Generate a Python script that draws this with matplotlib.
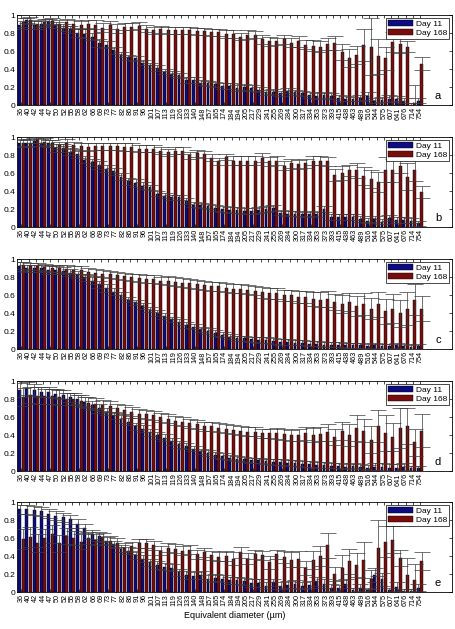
import matplotlib
matplotlib.use('Agg')
import matplotlib.pyplot as plt
import numpy as np

plt.rcParams['font.family'] = ['Liberation Sans', 'DejaVu Sans']

categories = [36, 40, 42, 44, 47, 50, 52, 55, 58, 62, 66, 69, 73, 77, 82, 86, 91, 96, 101, 107,
              113, 119, 126, 133, 140, 148, 157, 165, 174, 184, 194, 205, 217, 229, 241, 255, 269, 284, 300, 317,
              334, 353, 373, 393, 415, 438, 463, 489, 516, 544, 575, 607, 641, 676, 714, 754]

# ---- panel a ----
a_day11 = [0.89, 0.94, 0.89, 0.90, 0.93, 0.89, 0.86, 0.84, 0.80, 0.79,
           0.76, 0.69, 0.67, 0.61, 0.56, 0.53, 0.52, 0.47, 0.44, 0.41,
           0.37, 0.35, 0.33, 0.28, 0.28, 0.25, 0.24, 0.23,
           0.21, 0.21, 0.19, 0.20, 0.19, 0.17, 0.14, 0.15, 0.13, 0.16, 0.14, 0.13, 0.11, 0.10,
           0.11, 0.10, 0.08, 0.07, 0.07, 0.08, 0.10, 0.05, 0.06, 0.07, 0.07, 0.05, 0.00, 0.05]
a_day168 = [0.92, 0.94, 0.90, 0.92, 0.93, 0.90, 0.92, 0.90, 0.89, 0.90,
            0.89, 0.86, 0.89, 0.85, 0.87, 0.87, 0.88, 0.85, 0.83, 0.84,
            0.83, 0.83, 0.83, 0.83, 0.82, 0.82, 0.81, 0.81,
            0.79, 0.79, 0.76, 0.78, 0.78, 0.73, 0.71, 0.71, 0.73, 0.69, 0.71, 0.67, 0.66, 0.65,
            0.68, 0.69, 0.59, 0.52, 0.56, 0.67, 0.65, 0.54, 0.52, 0.70, 0.68, 0.65, 0.02, 0.46]
a_day11_err = [0.04, 0.03, 0.04, 0.03, 0.03, 0.03, 0.04, 0.04, 0.04, 0.05,
               0.04, 0.04, 0.04, 0.04, 0.03, 0.03, 0.03, 0.03, 0.03, 0.03,
               0.03, 0.03, 0.03, 0.03, 0.03, 0.03, 0.03, 0.03,
               0.03, 0.03, 0.03, 0.03, 0.03, 0.03, 0.03, 0.03, 0.03, 0.03, 0.03, 0.03, 0.03, 0.03,
               0.03, 0.03, 0.03, 0.03, 0.02, 0.03, 0.04, 0.03, 0.03, 0.04, 0.03, 0.03, 0.02, 0.03]
a_day168_err = [0.05, 0.04, 0.05, 0.04, 0.04, 0.04, 0.04, 0.04, 0.04, 0.04,
                0.05, 0.05, 0.04, 0.05, 0.04, 0.04, 0.04, 0.04, 0.04, 0.04,
                0.04, 0.04, 0.04, 0.04, 0.04, 0.04, 0.04, 0.04,
                0.04, 0.04, 0.04, 0.05, 0.04, 0.05, 0.05, 0.04, 0.05, 0.05, 0.06, 0.05, 0.06, 0.06,
                0.07, 0.08, 0.09, 0.10, 0.10, 0.18, 0.32, 0.19, 0.13, 0.11, 0.10, 0.06, 0.20, 0.07]

# ---- panel b ----
b_day11 = [0.93, 0.93, 0.96, 0.94, 0.93, 0.88, 0.88, 0.84, 0.81, 0.75,
           0.72, 0.69, 0.65, 0.62, 0.56, 0.51, 0.49, 0.46, 0.44, 0.37,
           0.35, 0.33, 0.33, 0.29, 0.25, 0.24, 0.23, 0.21, 0.20,
           0.19, 0.19, 0.18, 0.18, 0.19, 0.20, 0.21, 0.16, 0.15, 0.15, 0.14, 0.15, 0.14, 0.20,
           0.11, 0.11, 0.11, 0.11, 0.09, 0.07, 0.09, 0.06, 0.10, 0.08, 0.08, 0.07, 0.04]
b_day168 = [0.94, 0.94, 0.97, 0.95, 0.93, 0.91, 0.94, 0.91, 0.90, 0.89,
            0.90, 0.90, 0.90, 0.90, 0.89, 0.89, 0.87, 0.87, 0.87, 0.85,
            0.83, 0.85, 0.85, 0.80, 0.82, 0.81, 0.77, 0.73, 0.78,
            0.74, 0.74, 0.74, 0.74, 0.77, 0.73, 0.74, 0.68, 0.71, 0.70, 0.71, 0.74, 0.74, 0.73,
            0.58, 0.60, 0.63, 0.63, 0.57, 0.53, 0.50, 0.64, 0.63, 0.68, 0.56, 0.63, 0.39]
b_day11_err = [0.04, 0.04, 0.03, 0.04, 0.04, 0.04, 0.04, 0.04, 0.04, 0.04,
               0.04, 0.04, 0.04, 0.04, 0.04, 0.04, 0.04, 0.04, 0.03, 0.03,
               0.03, 0.03, 0.03, 0.03, 0.03, 0.03, 0.03, 0.03, 0.03, 0.03,
               0.03, 0.03, 0.03, 0.03, 0.03, 0.03, 0.03, 0.03, 0.03, 0.03,
               0.03, 0.03, 0.03, 0.03, 0.03, 0.03, 0.03, 0.03, 0.03, 0.03,
               0.03, 0.03, 0.03, 0.03, 0.03, 0.03]
b_day168_err = [0.04, 0.04, 0.03, 0.04, 0.04, 0.04, 0.04, 0.04, 0.04, 0.04,
                0.04, 0.04, 0.04, 0.04, 0.04, 0.04, 0.04, 0.04, 0.04, 0.04,
                0.04, 0.04, 0.04, 0.04, 0.04, 0.04, 0.04, 0.04, 0.03,
                0.05, 0.05, 0.05, 0.05, 0.05, 0.05, 0.05, 0.05, 0.05, 0.05,
                0.05, 0.05, 0.05, 0.05, 0.07, 0.08, 0.06, 0.08, 0.10, 0.10,
                0.11, 0.14, 0.13, 0.08, 0.15, 0.12, 0.07]

# ---- panel c ----
c_day11 = [0.92, 0.90, 0.90, 0.90, 0.88, 0.88, 0.87, 0.85, 0.83, 0.80,
           0.76, 0.72, 0.68, 0.64, 0.60, 0.55, 0.52, 0.48, 0.44, 0.40,
           0.37, 0.33, 0.30, 0.27, 0.25, 0.22, 0.20, 0.18, 0.16, 0.14,
           0.12, 0.12, 0.11, 0.10, 0.10, 0.09, 0.08, 0.08, 0.07, 0.07,
           0.06, 0.06, 0.05, 0.05, 0.05, 0.04, 0.04, 0.04, 0.03, 0.04,
           0.03, 0.03, 0.04, 0.03, 0.02, 0.03]
c_day168 = [0.93, 0.92, 0.92, 0.91, 0.90, 0.90, 0.89, 0.88, 0.88, 0.86,
            0.85, 0.84, 0.83, 0.82, 0.81, 0.80, 0.79, 0.78, 0.78, 0.76,
            0.76, 0.75, 0.74, 0.73, 0.72, 0.71, 0.70, 0.70, 0.68, 0.67,
            0.67, 0.66, 0.65, 0.63, 0.62, 0.62, 0.60, 0.60, 0.58, 0.58,
            0.56, 0.55, 0.56, 0.52, 0.50, 0.52, 0.48, 0.50, 0.45, 0.50,
            0.42, 0.45, 0.40, 0.45, 0.55, 0.45]
c_day11_err = [0.05, 0.04, 0.04, 0.04, 0.04, 0.04, 0.04, 0.04, 0.04, 0.04,
               0.04, 0.04, 0.04, 0.04, 0.04, 0.03, 0.03, 0.03, 0.03, 0.03,
               0.03, 0.03, 0.03, 0.03, 0.03, 0.03, 0.03, 0.03, 0.03, 0.03,
               0.03, 0.03, 0.03, 0.03, 0.03, 0.03, 0.03, 0.03, 0.03, 0.03,
               0.03, 0.03, 0.03, 0.03, 0.03, 0.03, 0.03, 0.03, 0.03, 0.03,
               0.03, 0.03, 0.03, 0.03, 0.02, 0.03]
c_day168_err = [0.04, 0.04, 0.04, 0.04, 0.04, 0.04, 0.04, 0.04, 0.04, 0.04,
                0.04, 0.04, 0.04, 0.04, 0.04, 0.04, 0.04, 0.04, 0.04, 0.04,
                0.05, 0.05, 0.05, 0.05, 0.05, 0.05, 0.05, 0.05, 0.05, 0.05,
                0.05, 0.05, 0.05, 0.06, 0.06, 0.06, 0.06, 0.06, 0.07, 0.07,
                0.08, 0.08, 0.09, 0.09, 0.10, 0.10, 0.11, 0.12, 0.12, 0.14,
                0.14, 0.16, 0.15, 0.18, 0.17, 0.14]

# ---- panel d ----
d_day11 = [0.90, 0.92, 0.90, 0.88, 0.88, 0.86, 0.85, 0.82, 0.80, 0.77,
           0.73, 0.70, 0.66, 0.62, 0.58, 0.55, 0.50, 0.47, 0.43, 0.40,
           0.37, 0.33, 0.30, 0.28, 0.25, 0.22, 0.20, 0.18, 0.17, 0.15,
           0.14, 0.13, 0.12, 0.12, 0.11, 0.10, 0.10, 0.09, 0.09, 0.08,
           0.08, 0.07, 0.07, 0.06, 0.06, 0.05, 0.06, 0.05, 0.04, 0.05,
           0.05, 0.04, 0.04, 0.05, 0.03, 0.03]
d_day168 = [0.82, 0.85, 0.84, 0.83, 0.83, 0.82, 0.80, 0.80, 0.78, 0.76,
            0.75, 0.73, 0.72, 0.70, 0.68, 0.66, 0.64, 0.63, 0.62, 0.60,
            0.58, 0.56, 0.55, 0.53, 0.52, 0.50, 0.50, 0.48, 0.47, 0.46,
            0.45, 0.44, 0.44, 0.42, 0.42, 0.42, 0.41, 0.40, 0.40, 0.42,
            0.40, 0.41, 0.43, 0.38, 0.45, 0.40, 0.48, 0.45, 0.35, 0.50,
            0.42, 0.38, 0.48, 0.50, 0.32, 0.45]
d_day11_err = [0.08, 0.07, 0.07, 0.06, 0.06, 0.05, 0.05, 0.05, 0.05, 0.05,
               0.05, 0.05, 0.04, 0.04, 0.04, 0.04, 0.04, 0.04, 0.04, 0.04,
               0.04, 0.04, 0.04, 0.03, 0.03, 0.03, 0.03, 0.03, 0.03, 0.03,
               0.03, 0.03, 0.03, 0.03, 0.03, 0.03, 0.03, 0.03, 0.03, 0.03,
               0.03, 0.03, 0.03, 0.03, 0.03, 0.03, 0.03, 0.03, 0.03, 0.04,
               0.04, 0.04, 0.04, 0.04, 0.03, 0.03]
d_day168_err = [0.10, 0.09, 0.09, 0.08, 0.08, 0.08, 0.07, 0.07, 0.07, 0.06,
                0.06, 0.06, 0.06, 0.05, 0.05, 0.05, 0.05, 0.05, 0.05, 0.05,
                0.05, 0.05, 0.05, 0.05, 0.05, 0.05, 0.05, 0.05, 0.05, 0.05,
                0.05, 0.05, 0.05, 0.05, 0.05, 0.06, 0.06, 0.06, 0.07, 0.07,
                0.08, 0.08, 0.09, 0.09, 0.10, 0.12, 0.14, 0.13, 0.15, 0.18,
                0.20, 0.16, 0.22, 0.20, 0.15, 0.18]

# ---- panel e ----
e_day11 = [0.92, 0.92, 0.91, 0.90, 0.87, 0.85, 0.83, 0.81, 0.76, 0.71,
           0.64, 0.62, 0.57, 0.53, 0.48, 0.46, 0.41, 0.37, 0.33, 0.30,
           0.28, 0.27, 0.22, 0.19, 0.18, 0.19, 0.15, 0.16, 0.15,
           0.13, 0.13, 0.12, 0.10, 0.10, 0.07, 0.11, 0.07, 0.08, 0.09,
           0.07, 0.08, 0.12, 0.09, 0.05, 0.04, 0.09, 0.02, 0.05, 0.02,
           0.19, 0.14, 0.02, 0.06, 0.01, 0.01, 0.05]
e_day168 = [0.59, 0.61, 0.54, 0.60, 0.64, 0.54, 0.62, 0.60, 0.56, 0.60,
            0.58, 0.61, 0.57, 0.55, 0.49, 0.51, 0.54, 0.54, 0.52, 0.46,
            0.49, 0.48, 0.46, 0.47, 0.42, 0.44, 0.41, 0.39, 0.40,
            0.37, 0.44, 0.37, 0.42, 0.41, 0.33, 0.42, 0.39, 0.36, 0.37,
            0.27, 0.36, 0.40, 0.52, 0.20, 0.27, 0.34, 0.30, 0.36, 0.14,
            0.49, 0.56, 0.58, 0.38, 0.19, 0.13, 0.34]
e_day11_err = [0.05, 0.05, 0.05, 0.05, 0.05, 0.05, 0.05, 0.05, 0.05, 0.05,
               0.05, 0.05, 0.04, 0.04, 0.04, 0.04, 0.04, 0.04, 0.04, 0.04,
               0.04, 0.04, 0.04, 0.04, 0.04, 0.04, 0.04, 0.04, 0.04,
               0.04, 0.04, 0.04, 0.04, 0.04, 0.04, 0.04, 0.04, 0.04, 0.04,
               0.04, 0.04, 0.05, 0.05, 0.04, 0.04, 0.05, 0.03, 0.04, 0.03,
               0.08, 0.07, 0.03, 0.05, 0.02, 0.02, 0.04]
e_day168_err = [0.11, 0.11, 0.10, 0.10, 0.10, 0.09, 0.09, 0.08, 0.08, 0.07,
                0.06, 0.05, 0.05, 0.05, 0.05, 0.05, 0.05, 0.05, 0.05, 0.05,
                0.05, 0.05, 0.05, 0.05, 0.05, 0.05, 0.05, 0.05, 0.06,
                0.07, 0.06, 0.06, 0.05, 0.05, 0.07, 0.05, 0.07, 0.08, 0.09,
                0.08, 0.10, 0.11, 0.14, 0.08, 0.14, 0.14, 0.13, 0.20, 0.11,
                0.31, 0.17, 0.15, 0.09, 0.19, 0.18, 0.10]

panel_letters = ['a', 'b', 'c', 'd', 'e']
series_names = ['Day 11', 'Day 168']
panels = [
    (a_day11, a_day11_err, a_day168, a_day168_err),
    (b_day11, b_day11_err, b_day168, b_day168_err),
    (c_day11, c_day11_err, c_day168, c_day168_err),
    (d_day11, d_day11_err, d_day168, d_day168_err),
    (e_day11, e_day11_err, e_day168, e_day168_err),
]

BLUE = '#0c0c80'
RED = '#7a0c0c'

fig = plt.figure(figsize=(4.55, 6.29), dpi=100)
bottoms = [0.833, 0.639, 0.445, 0.251, 0.0588]
x = np.arange(len(categories))

for letter, (b11, e11, b168, e168), bot in zip(panel_letters, panels, bottoms):
    ax = fig.add_axes([0.0374, bot, 0.956, 0.143])
    ax.bar(x - 0.25, b11, width=0.4, color=BLUE, edgecolor='black', linewidth=0.3,
           label=series_names[0], zorder=2)
    ax.bar(x + 0.25, b168, width=0.4, color=RED, edgecolor='black', linewidth=0.3,
           label=series_names[1], zorder=2)
    ax.errorbar(x - 0.25, b11, yerr=e11, fmt='none', ecolor='#3a3a3a', elinewidth=0.5,
                capsize=5.5, capthick=0.5, zorder=3)
    ax.errorbar(x + 0.25, b168, yerr=e168, fmt='none', ecolor='#3a3a3a', elinewidth=0.5,
                capsize=5.5, capthick=0.5, zorder=3)
    ax.set_xlim(-0.6, 59.4)
    ax.set_ylim(0, 1)
    ax.set_xticks(x)
    ax.set_xticklabels([str(c) for c in categories], rotation=90, fontsize=5.2)
    ax.set_yticks([0, 0.2, 0.4, 0.6, 0.8, 1])
    ax.set_yticklabels(['0', '0.2', '0.4', '0.6', '0.8', '1'], fontsize=6)
    ax.tick_params(direction='in', top=True, right=True, length=2.5, width=0.5, pad=1.5)
    for s in ax.spines.values():
        s.set_linewidth(0.6)
    leg = ax.legend(loc='upper right', fontsize=6, handlelength=3.0, handleheight=0.8,
                    borderpad=0.25, labelspacing=0.15, handletextpad=0.4,
                    borderaxespad=0.3, fancybox=False, framealpha=1)
    leg.get_frame().set_edgecolor('black')
    leg.get_frame().set_linewidth(0.5)
    ax.text(0.968, 0.1, letter, transform=ax.transAxes, ha='center', va='center', fontsize=8)
    if letter == 'e':
        ax.set_xlabel('Equivalent diameter (\u00b5m)', fontsize=6.5, labelpad=3)

fig.savefig('out.png', dpi=100)
